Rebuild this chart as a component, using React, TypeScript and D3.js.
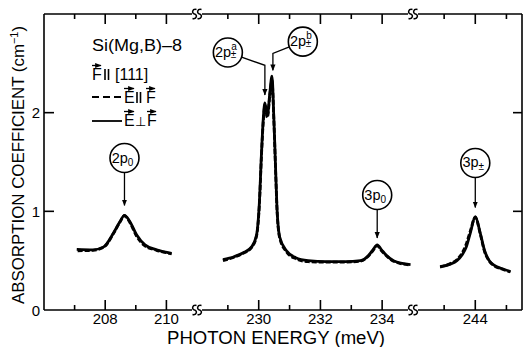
import React from "react";
import * as d3 from "d3";

// ---------- data ----------
// x-axis broken scale: break points (meV)
const xDomain = [206, 211, 228, 235, 242, 245.5];
const breaks = [211, 235];
const tickValues = [207, 208, 209, 210, 229, 230, 231, 232, 233, 234, 243, 244, 245];
const majorTicks = [208, 210, 230, 232, 234, 244];
const yTicks = [0, 1, 2];

// E ⊥ F (solid)
const seg1Perp: [number, number][] = [
  [207.07, 0.615], [207.6, 0.61], [207.95, 0.64], [208.27, 0.78], [208.48, 0.895],
  [208.63, 0.96], [208.81, 0.895], [209.03, 0.76], [209.3, 0.66], [209.68, 0.61], [210.17, 0.575],
];
const seg2Perp: [number, number][] = [
  [228.84, 0.51], [229.2, 0.54], [229.5, 0.58], [229.77, 0.64], [229.93, 0.76], [230.02, 1.08],
  [230.09, 1.59], [230.15, 1.95], [230.2, 2.1], [230.28, 1.97], [230.36, 2.2], [230.43, 2.37],
  [230.49, 1.95], [230.54, 1.5], [230.59, 1.05], [230.68, 0.74], [230.9, 0.6], [231.2, 0.53],
  [231.6, 0.5], [232.2, 0.49], [232.8, 0.49], [233.3, 0.5], [233.55, 0.55], [233.7, 0.61],
  [233.84, 0.66], [233.98, 0.61], [234.12, 0.56], [234.37, 0.5], [234.92, 0.46],
];
const seg3Perp: [number, number][] = [
  [242.87, 0.44], [243.2, 0.465], [243.41, 0.5], [243.58, 0.56], [243.7, 0.63], [243.84, 0.78],
  [244.0, 0.945], [244.16, 0.78], [244.3, 0.6], [244.45, 0.5], [244.6, 0.455], [244.85, 0.42], [245.13, 0.39],
];
// E ∥ F (dashed)
const seg1Par: [number, number][] = [
  [207.1, 0.6], [207.6, 0.605], [207.95, 0.635], [208.27, 0.775], [208.48, 0.89],
  [208.63, 0.955], [208.81, 0.885], [209.03, 0.745], [209.3, 0.65], [209.68, 0.605], [210.17, 0.57],
];
const seg2Par: [number, number][] = [
  [228.84, 0.5], [229.2, 0.535], [229.5, 0.575], [229.77, 0.635], [229.93, 0.75], [230.02, 1.06],
  [230.09, 1.57], [230.15, 1.92], [230.2, 2.07], [230.28, 1.95], [230.36, 2.17], [230.43, 2.33],
  [230.49, 1.93], [230.54, 1.48], [230.59, 1.04], [230.68, 0.73], [230.9, 0.59], [231.2, 0.52],
  [231.6, 0.49], [232.2, 0.485], [232.8, 0.485], [233.3, 0.495], [233.55, 0.545], [233.7, 0.6],
  [233.84, 0.65], [233.98, 0.6], [234.12, 0.555], [234.37, 0.495], [234.92, 0.455],
];
const seg3Par: [number, number][] = [
  [242.87, 0.435], [243.2, 0.47], [243.41, 0.51], [243.58, 0.58], [243.7, 0.66], [243.84, 0.8],
  [244.0, 0.94], [244.16, 0.77], [244.3, 0.59], [244.45, 0.495], [244.6, 0.45], [244.85, 0.415], [245.13, 0.385],
];
const perpSegments = [seg1Perp, seg2Perp, seg3Perp];
const parSegments = [seg1Par, seg2Par, seg3Par];

// peak labels: circle position (energy, value), leader elbow, arrow tip
const peakLabels = [
  { main: "2p", sub: "0", sup: "", cE: 208.63, cV: 1.54, eE: 208.63, eV: 1.54, tE: 208.63, tV: 1.06 },
  { main: "2p", sub: "±", sup: "a", cE: 229.0, cV: 2.61, eE: 230.2, eV: 2.48, tE: 230.2, tV: 2.18 },
  { main: "2p", sub: "±", sup: "b", cE: 231.43, cV: 2.72, eE: 230.46, eV: 2.6, tE: 230.46, tV: 2.43 },
  { main: "3p", sub: "0", sup: "", cE: 233.84, cV: 1.165, eE: 233.84, eV: 1.165, tE: 233.84, tV: 0.73 },
  { main: "3p", sub: "±", sup: "", cE: 244.0, cV: 1.49, eE: 244.0, eV: 1.49, tE: 244.0, tV: 1.04 },
];

const sampleName = "Si(Mg,B)–8";
const xLabel = "PHOTON ENERGY (meV)";
const yLabel = "ABSORPTION COEFFICIENT (cm";

// ---------- layout ----------
const W = 524, H = 347;
const left = 44, right = 522, top = 14, bottom = 310;
const FONT = "'Liberation Sans', Arial, Helvetica, sans-serif";

export default function App() {
  const bx1 = 197, bx2 = 413;
  const x = d3.scaleLinear().domain(xDomain).range([left, bx1, bx1, bx2, bx2, right]);
  const y = d3.scaleLinear().domain([0, 3]).range([bottom, top]);
  const line = d3
    .line<[number, number]>()
    .x((d) => x(d[0]))
    .y((d) => y(d[1]))
    .curve(d3.curveMonotoneX);

  const breakXs = breaks.map((b) => x(b));

  const squiggle = (cx: number, cy: number) => {
    const s = (c: number) =>
      `M${c + 2},${cy - 4.5} C${c - 2.5},${cy - 5.5} ${c - 3},${cy - 0.5} ${c},${cy} C${c + 3},${cy + 0.5} ${c + 2.5},${cy + 5.5} ${c - 2},${cy + 4.5}`;
    return s(cx - 2.5) + " " + s(cx + 2.5);
  };

  const hAxis = (yy: number, dir: number) => {
    const segs: [number, number][] = [];
    let start = left;
    breakXs.forEach((bx) => {
      segs.push([start, bx - 5]);
      start = bx + 5;
    });
    segs.push([start, right]);
    return (
      <g>
        {segs.map((s, i) => (
          <line key={i} x1={s[0]} x2={s[1]} y1={yy} y2={yy} stroke="#000" strokeWidth={1.6} />
        ))}
        {breakXs.map((bx, i) => (
          <path key={"b" + i} d={squiggle(bx, yy)} fill="none" stroke="#000" strokeWidth={1.5} />
        ))}
        {tickValues.map((t) => {
          const len = majorTicks.includes(t) ? 10 : 5;
          return (
            <line key={"t" + t} x1={x(t)} x2={x(t)} y1={yy} y2={yy + dir * len} stroke="#000" strokeWidth={1.6} />
          );
        })}
      </g>
    );
  };

  const par = (px: number, py: number) => (
    <g stroke="#000" strokeWidth={1.6}>
      <line x1={px} x2={px} y1={py - 11} y2={py} />
      <line x1={px + 3.5} x2={px + 3.5} y1={py - 11} y2={py} />
    </g>
  );

  return (
    <svg
      width={W}
      height={H}
      style={{ position: "fixed", left: 0, top: 0, background: "#fff" }}
      fontFamily={FONT}
    >
      <defs>
        <marker id="ah" viewBox="0 0 10 10" refX="9" refY="5" markerWidth="5" markerHeight="6" orient="auto">
          <path d="M0,1 L10,5 L0,9 z" fill="#000" />
        </marker>
      </defs>
      <rect width={W} height={H} fill="#fff" />

      {/* axes */}
      {hAxis(bottom, -1)}
      {hAxis(top, 1)}
      <line x1={left} x2={left} y1={top} y2={bottom} stroke="#000" strokeWidth={1.6} />
      <line x1={right} x2={right} y1={top} y2={bottom} stroke="#000" strokeWidth={1.6} />
      {yTicks.filter((t) => t > 0).map((t) => (
        <g key={"yt" + t}>
          <line x1={left} x2={left + 10} y1={y(t)} y2={y(t)} stroke="#000" strokeWidth={1.6} />
          <line x1={right} x2={right - 9} y1={y(t)} y2={y(t)} stroke="#000" strokeWidth={1.6} />
        </g>
      ))}
      {yTicks.map((t) => (
        <text key={"yl" + t} x={40} y={y(t) + 5.5} fontSize={15} textAnchor="end">
          {t}
        </text>
      ))}
      {majorTicks.map((t) => (
        <text key={"xl" + t} x={x(t)} y={323.5} fontSize={15} textAnchor="middle">
          {t}
        </text>
      ))}

      {/* axis titles */}
      <text x={276} y={344} fontSize={18} textAnchor="middle" textLength={218} lengthAdjust="spacingAndGlyphs">
        {xLabel}
      </text>
      <text
        transform="translate(24,165) rotate(-90)"
        fontSize={17}
        textAnchor="middle"
        textLength={278}
        lengthAdjust="spacingAndGlyphs"
      >
        {yLabel}
        <tspan dy={-6} fontSize={11}>−1</tspan>
        <tspan dy={6}>)</tspan>
      </text>

      {/* curves */}
      {perpSegments.map((seg, i) => (
        <path key={"p" + i} d={line(seg) || ""} fill="none" stroke="#000" strokeWidth={2.8} />
      ))}
      {parSegments.map((seg, i) => (
        <path key={"d" + i} d={line(seg) || ""} fill="none" stroke="#000" strokeWidth={2.8} strokeDasharray="5 2" />
      ))}

      {/* peak labels */}
      {peakLabels.map((p, i) => {
        const cx = x(p.cE), cy = y(p.cV);
        const ex = x(p.eE), ey = y(p.eV);
        const tx = x(p.tE), ty = y(p.tV);
        const r = 14.5;
        let sx = cx, sy = cy + r;
        const elbow = Math.abs(ex - cx) > 1;
        if (elbow) {
          const dx = ex - cx, dy = ey - cy;
          const d = Math.hypot(dx, dy);
          sx = cx + (dx / d) * r;
          sy = cy + (dy / d) * r;
        }
        const pts = elbow ? `M${sx},${sy} L${ex},${ey} L${tx},${ty}` : `M${sx},${sy} L${tx},${ty}`;
        return (
          <g key={"pl" + i}>
            <circle cx={cx} cy={cy} r={r} fill="#fff" stroke="#000" strokeWidth={1.6} />
            <path d={pts} fill="none" stroke="#000" strokeWidth={1.3} markerEnd="url(#ah)" />
            <text x={cx - 2} y={cy + 4.5} fontSize={14.5} textAnchor="middle">
              {p.main}
              <tspan fontSize={10} dy={p.sup ? -7 : 3}>
                {p.sup || p.sub}
              </tspan>
              {p.sup ? (
                <tspan fontSize={10} dx={-6} dy={8}>
                  {p.sub}
                </tspan>
              ) : null}
            </text>
          </g>
        );
      })}

      {/* legend */}
      <g fontSize={16}>
        <text x={92} y={51} textLength={90} lengthAdjust="spacingAndGlyphs">
          {sampleName}
        </text>
        {/* row 2 */}
        <text x={92} y={80}>F</text>
        {par(105, 80)}
        <text x={115} y={80}>[111]</text>
        <line x1={92} x2={101} y1={65.5} y2={65.5} stroke="#000" strokeWidth={1.3} markerEnd="url(#ah)" />
        {/* row 3 */}
        <line x1={92} x2={123} y1={97} y2={97} stroke="#000" strokeWidth={1.8} strokeDasharray="7 4" />
        <text x={124} y={103}>E</text>
        {par(137, 103)}
        <text x={146} y={103}>F</text>
        <line x1={124} x2={134} y1={88.5} y2={88.5} stroke="#000" strokeWidth={1.3} markerEnd="url(#ah)" />
        <line x1={146} x2={155} y1={88.5} y2={88.5} stroke="#000" strokeWidth={1.3} markerEnd="url(#ah)" />
        {/* row 4 */}
        <line x1={92} x2={122} y1={121} y2={121} stroke="#000" strokeWidth={1.8} />
        <text x={124} y={126}>E</text>
        <text x={134.5} y={126} fontSize={13}>⊥</text>
        <text x={147} y={126}>F</text>
        <line x1={124} x2={134} y1={111.5} y2={111.5} stroke="#000" strokeWidth={1.3} markerEnd="url(#ah)" />
        <line x1={147} x2={156} y1={111.5} y2={111.5} stroke="#000" strokeWidth={1.3} markerEnd="url(#ah)" />
      </g>
    </svg>
  );
}
